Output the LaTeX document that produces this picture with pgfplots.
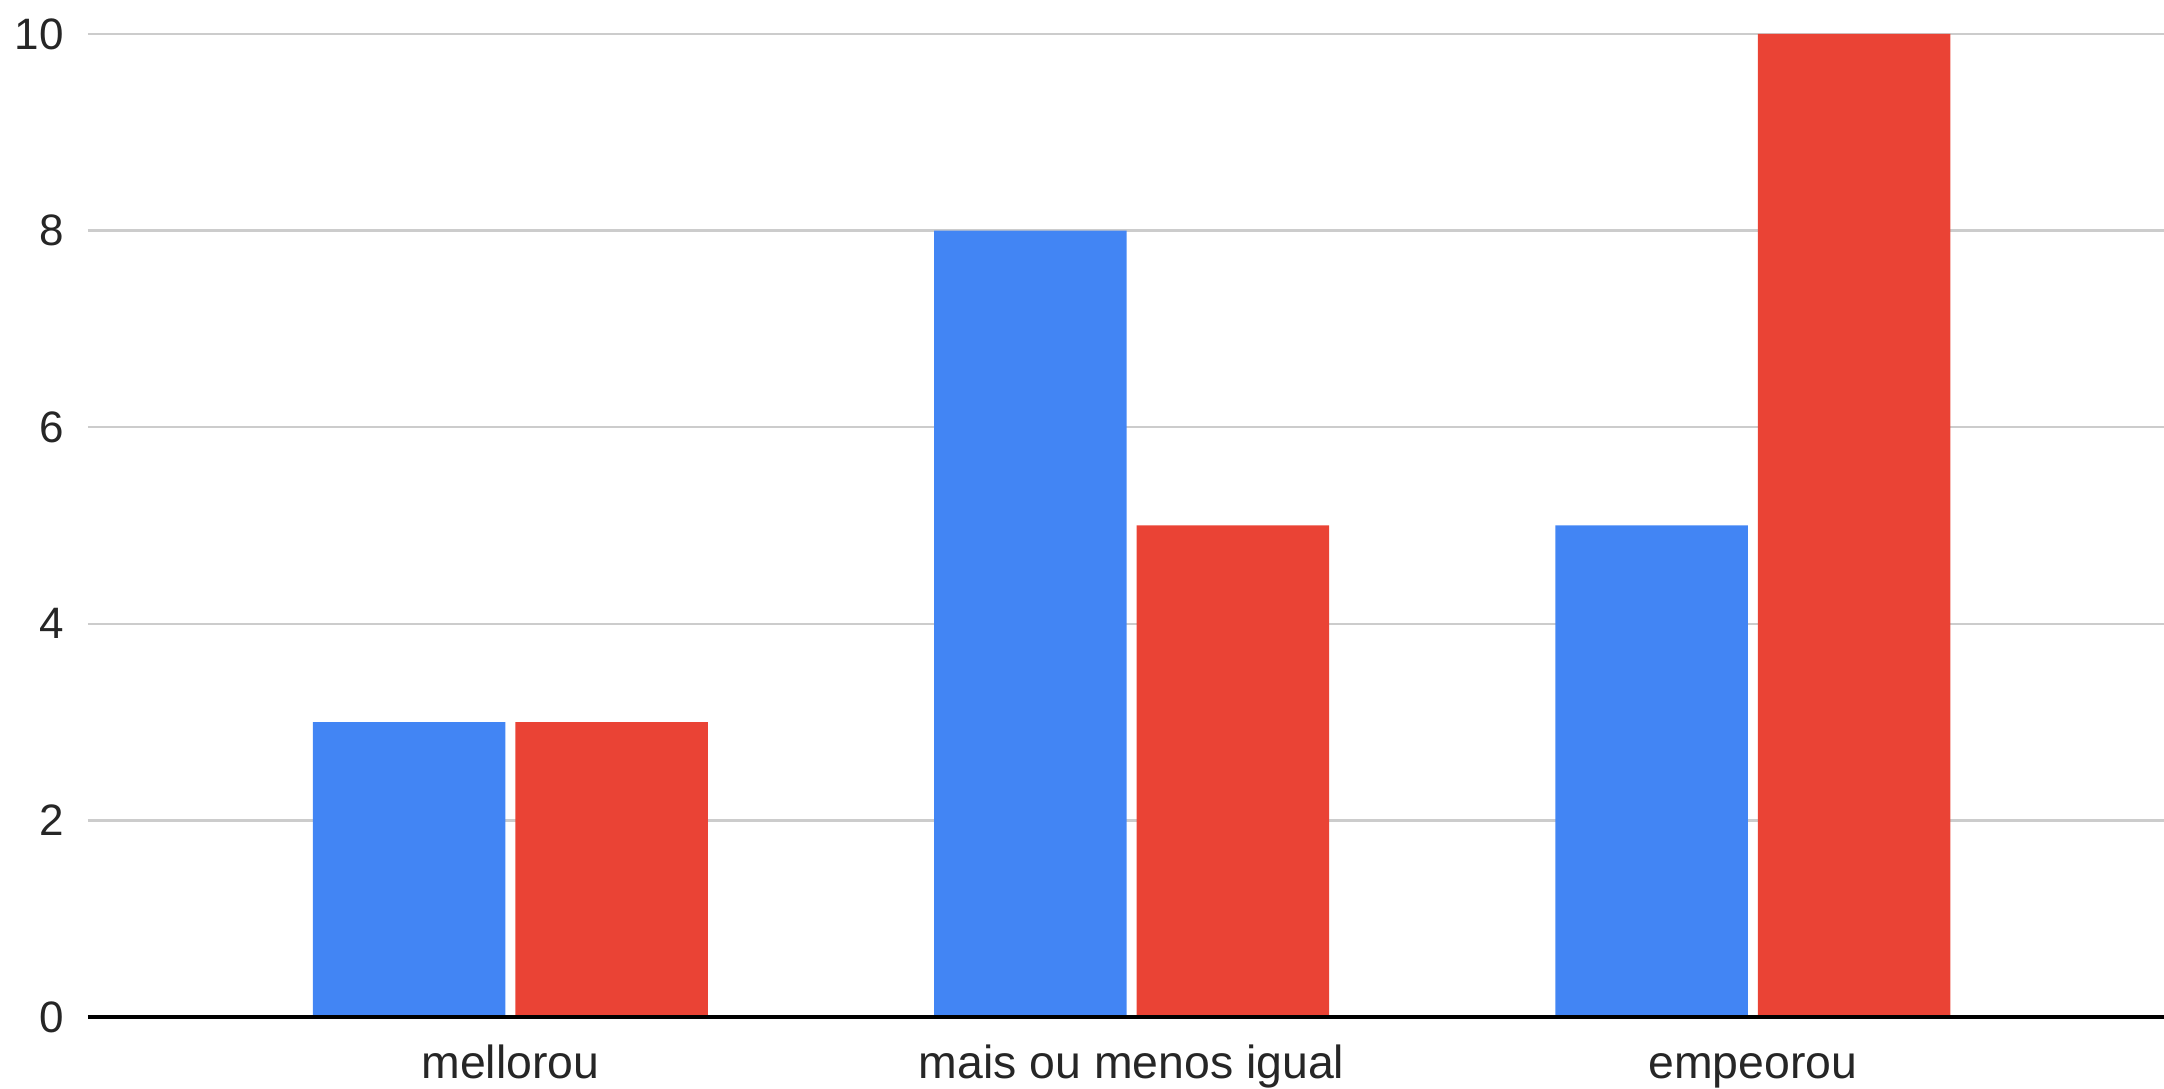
\documentclass[border=0pt]{standalone}
\usepackage{pgfplots}
\pgfplotsset{compat=1.18}
\usepackage{fontspec}
\setmainfont{Liberation Sans}
\definecolor{gblue}{HTML}{4285F4}
\definecolor{gred}{HTML}{EA4335}
\definecolor{gridgray}{HTML}{CCCCCC}
\definecolor{baseline}{HTML}{333333}

\begin{document}
\begin{tikzpicture}
    % fixed page size: axis sits with its south west corner at the origin
    \useasboundingbox (-22pt,-18pt) rectangle (519pt,254.25pt);
    \begin{axis}[
        at={(0,0)}, anchor=south west,
        scale only axis,
        width=519pt, height=245.75pt,
        xmin=-0.68, xmax=2.662,
        ymin=0, ymax=10,
        ytick={0,2,4,6,8,10},
        xtick={0,1,2},
        xticklabels={mellorou, mais ou menos igual, empeorou},
        major tick length=0pt,
        axis line style={draw=none},
        ymajorgrids=true,
        grid style={gridgray, line width=0.6pt},
        tick label style={text=black!85},
        yticklabel style={font=\fontsize{11pt}{13}\selectfont, xshift=-2.5pt},
        xticklabel style={font=\fontsize{11.6pt}{13}\selectfont, anchor=base, yshift=-15.5pt},
        /pgf/number format/assume math mode=true,
        bar width=0.31,
        clip=false,
    ]
        \addplot[ybar, bar shift=-0.163, fill=gblue, draw=none]
            coordinates {(0,3) (1,8) (2,5)};
        \addplot[ybar, bar shift=0.163, fill=gred, draw=none]
            coordinates {(0,3) (1,5) (2,10)};
        \draw[baseline, line width=0.8pt] (rel axis cs:0,0) -- (rel axis cs:1,0);
    \end{axis}
\end{tikzpicture}
\end{document}
